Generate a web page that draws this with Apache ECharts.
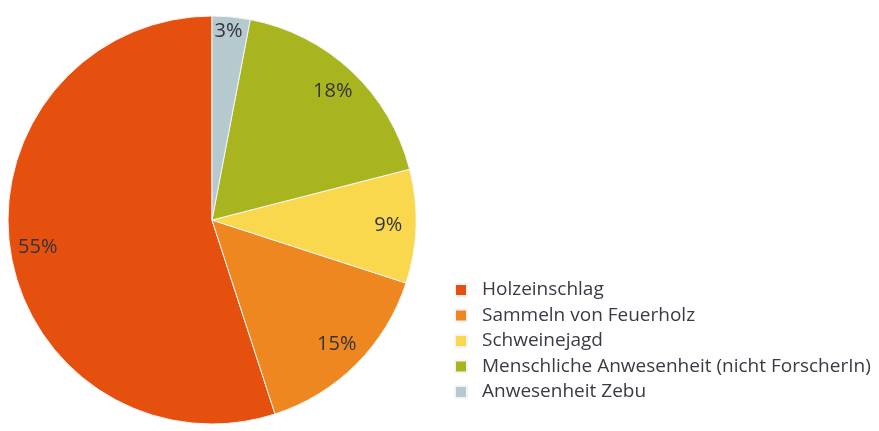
<!DOCTYPE html>
<html>
<head>
<meta charset="utf-8">
<script src="https://cdn.jsdelivr.net/npm/echarts@6/dist/echarts.min.js"></script>
<style>
  html, body { margin: 0; padding: 0; background: #fff; }
  #chart { width: 879px; height: 431px; }
</style>
</head>
<body>
<div id="chart"></div>
<script>
const categories = [
  'Holzeinschlag',
  'Sammeln von Feuerholz',
  'Schweinejagd',
  'Menschliche Anwesenheit (nicht ForscherIn)',
  'Anwesenheit Zebu'
];
const shares = [55, 15, 9, 18, 3];
const colors = ['#E6500F', '#EE8720', '#F9D84E', '#A8B51E', '#B6C9CF'];

const chart = echarts.init(document.getElementById('chart'));

const center = [212, 220];
const R = 204;

const pieData = categories.map((name, i) => ({ name: name, value: shares[i] }));

// labels sit near the rim, so a transparent ring carries them
const labelData = categories.map((name, i) => {
  const item = { name: name, value: shares[i] };
  if (shares[i] < 5) item.label = { offset: [0, -13] };
  return item;
});

const option = {
  color: colors,
  legend: {
    orient: 'vertical',
    left: 449,
    top: 275,
    itemWidth: 12,
    itemHeight: 12,
    itemGap: 5.5,
    icon: 'rect',
    selectedMode: false,
    data: categories,
    textStyle: {
      fontFamily: 'Open Sans',
      fontSize: 19,
      lineHeight: 20,
      color: '#3a3a44',
      padding: [0, 0, 0, 10]
    }
  },
  series: [
    {
      type: 'pie',
      center: center,
      radius: [0, R],
      startAngle: 90,
      clockwise: false,
      silent: true,
      label: { show: false },
      labelLine: { show: false },
      itemStyle: { borderColor: '#f4f4f4', borderWidth: 1 },
      data: pieData
    },
    {
      type: 'pie',
      center: center,
      radius: [R * 0.7, R],
      startAngle: 90,
      clockwise: false,
      silent: true,
      legendHoverLink: false,
      itemStyle: { color: 'transparent' },
      labelLine: { show: false },
      label: {
        show: true,
        position: 'inside',
        formatter: '{c}%',
        fontFamily: 'Open Sans',
        fontSize: 20,
        color: '#33343a'
      },
      data: labelData
    }
  ]
};

chart.setOption(option);
</script>
</body>
</html>
